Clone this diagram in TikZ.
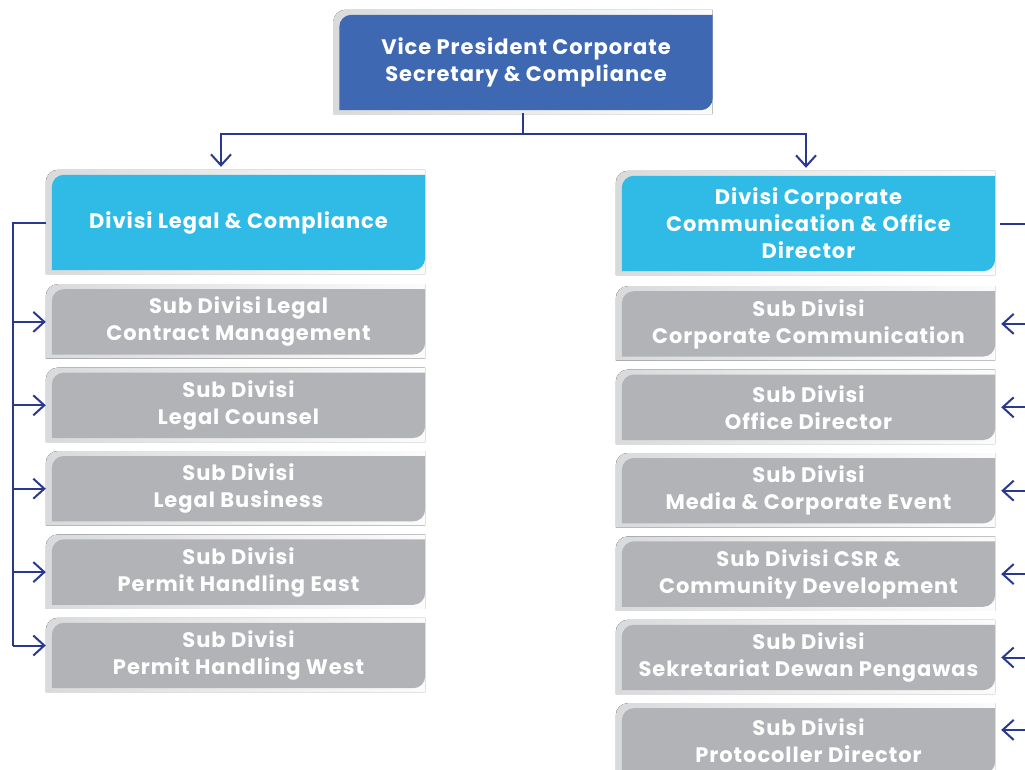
\documentclass[tikz,border=0pt]{standalone}
\usepackage{fontspec}
\setmainfont{Poppins}[LetterSpace=4.5]
\usetikzlibrary{arrows.meta,positioning,backgrounds}
\definecolor{vpblue}{HTML}{3E68B2}
\definecolor{divcyan}{HTML}{2FBBE6}
\definecolor{subgray}{HTML}{B1B3B6}
\definecolor{shadegray}{HTML}{D9DADB}
\definecolor{navy}{HTML}{2A3990}

\begin{document}
\begin{tikzpicture}[
  x=1pt, y=1pt,
  node distance=18pt,
  card/.style={inner sep=0pt, align=center, text=white, minimum width=373pt,
               font=\bfseries\fontsize{21}{27}\selectfont},
  headbox/.style={card, minimum height=95pt},
  subbox/.style={card, minimum height=65pt},
  line/.style={draw=navy, line width=2pt},
  arr/.style={line, -{Straight Barb[length=11pt, width=20pt, line width=2pt]}}]
\useasboundingbox (0,0) rectangle (1025,-769);

% boxes
\node[headbox] (vp) at (526,-62.5) {Vice President Corporate\\ Secretary \& Compliance};
\node[headbox] (legal) at (238.5,-222.5) {Divisi Legal \& Compliance};
\node[headbox] (comm) at (808.5,-223.5) {Divisi Corporate\\ Communication \& Office\\ Director};

\node[subbox, below=19pt of legal] (ls1) {Sub Divisi Legal\\ Contract Management};
\node[subbox, below=of ls1] (ls2) {Sub Divisi\\ Legal Counsel};
\node[subbox, below=of ls2] (ls3) {Sub Divisi\\ Legal Business};
\node[subbox, below=of ls3] (ls4) {Sub Divisi\\ Permit Handling East};
\node[subbox, below=of ls4] (ls5) {Sub Divisi\\ Permit Handling West};

\node[subbox, below=20pt of comm] (rs1) {Sub Divisi\\ Corporate Communication};
\node[subbox, below=of rs1] (rs2) {Sub Divisi\\ Office Director};
\node[subbox, below=of rs2] (rs3) {Sub Divisi\\ Media \& Corporate Event};
\node[subbox, below=of rs3] (rs4) {Sub Divisi CSR \&\\ Community Development};
\node[subbox, below=of rs4] (rs5) {Sub Divisi\\ Sekretariat Dewan Pengawas};
\node[subbox, below=of rs5] (rs6) {Sub Divisi\\ Protocoller Director};

% card faces with shadow frame
\begin{scope}[on background layer]
\fill[white] (0,0) rectangle (1025,-769);
\foreach \n/\c in {vp/vpblue, legal/divcyan, comm/divcyan,
                   ls1/subgray, ls2/subgray, ls3/subgray, ls4/subgray, ls5/subgray,
                   rs1/subgray, rs2/subgray, rs3/subgray, rs4/subgray, rs5/subgray, rs6/subgray} {
  \fill[left color=shadegray, right color=shadegray!10]
    ([shift={(-6pt,-4pt)}]\n.south west) -- ([shift={(-6pt,-7pt)}]\n.north west)
    arc[start angle=180, end angle=90, radius=12pt]
    -- ([yshift=5pt]\n.north east) -- ([yshift=-4pt]\n.south east) -- cycle;
  \fill[\c] (\n.south west) -- ([yshift=-12pt]\n.north west)
    arc[start angle=180, end angle=90, radius=12pt]
    -- (\n.north east) -- ([yshift=12pt]\n.south east)
    arc[start angle=0, end angle=-90, radius=12pt] -- cycle;
}
\end{scope}

% top connectors
\coordinate (busl) at (221,-134);
\coordinate (busr) at (806,-134);
\draw[line] ([shift={(-3pt,-3pt)}]vp.south) -- ([xshift=-3pt]vp.south |- busl);
\draw[arr, shorten >=8pt] (busr) -- (busl) -- (busl |- legal.north);
\draw[arr, shorten >=8pt] (busl) -- (busr) -- (busr |- comm.north);

% left rail
\coordinate (lrail) at (13,0);
\coordinate (la5) at ([yshift=10pt]ls5.west);
\draw[line] ([xshift=-6pt]legal.west) -| (lrail |- la5);
\foreach \s in {ls1,ls2,ls3,ls4}
  \draw[arr, shorten >=6pt] (lrail |- \s.west) -- (\s.west);
\draw[arr, shorten >=6pt] (lrail |- la5) -- (la5);

% right rail
\coordinate (rrail) at (1040,0);
\coordinate (ra6) at ([yshift=11pt]rs6.east);
\draw[line] ([xshift=5pt]comm.east) -- (rrail |- comm.east);
\foreach \s in {rs1,rs2,rs3,rs4,rs5}
  \draw[arr, shorten >=6pt] (rrail |- \s.east) -- (\s.east);
\draw[arr, shorten >=6pt] (rrail |- ra6) -- (ra6);
\end{tikzpicture}
\end{document}
